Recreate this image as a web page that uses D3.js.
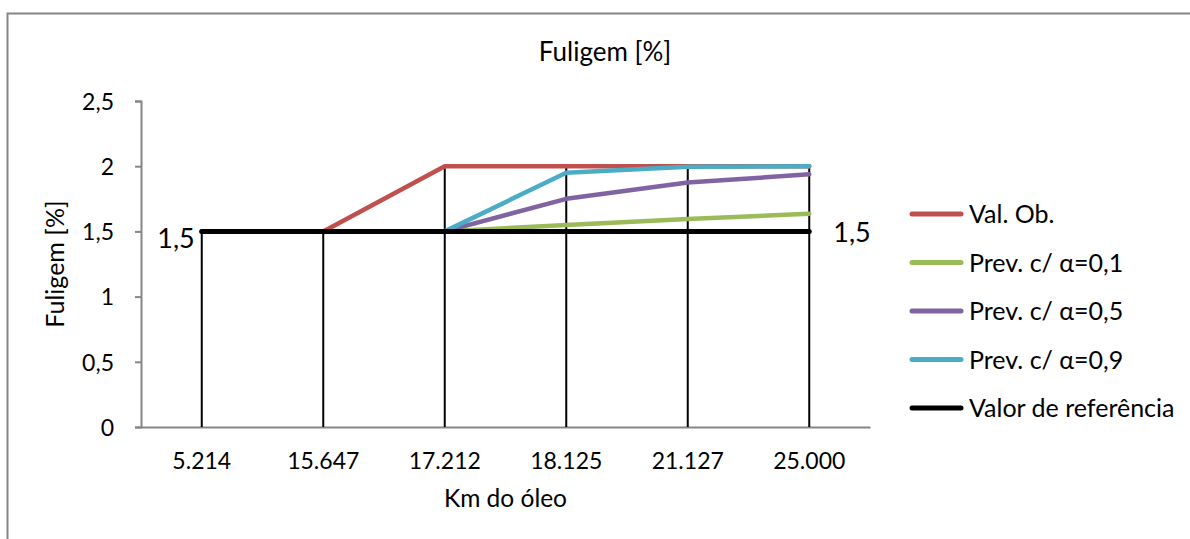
<!DOCTYPE html>
<html>
<head>
<meta charset="utf-8">
<script src="https://cdn.jsdelivr.net/npm/d3@7"></script>
<style>
  html, body { margin: 0; padding: 0; background: #fff; }
  svg { display: block; }
  text { font-family: Lato, "Open Sans", sans-serif; fill: #000; }
</style>
</head>
<body>
<svg id="chart" width="1190" height="539"></svg>
<script>
// Quilometragem do óleo (categorias do eixo X)
const categories = ["5.214", "15.647", "17.212", "18.125", "21.127", "25.000"];

// Fuligem [%] observada e previsões por suavização exponencial
const valObservado = [1.5, 1.5, 2, 2, 2, 2];
const prevAlfa01   = [1.5, 1.5, 1.5, 1.55, 1.595, 1.6355];
const prevAlfa05   = [1.5, 1.5, 1.5, 1.75, 1.875, 1.9375];
const prevAlfa09   = [1.5, 1.5, 1.5, 1.95, 1.995, 1.9995];
const valorReferencia = [1.5, 1.5, 1.5, 1.5, 1.5, 1.5];

const seriesNames = ["Val. Ob.", "Prev. c/ α=0,1", "Prev. c/ α=0,5", "Prev. c/ α=0,9", "Valor de referência"];
const yTicks = [0, 0.5, 1, 1.5, 2, 2.5];

const colors = ["#C0504D", "#9BBB59", "#8064A2", "#4BACC6", "#000000"];
const widths = [4.5, 4.5, 4.5, 4.5, 5];

const series = [valObservado, prevAlfa01, prevAlfa05, prevAlfa09, valorReferencia]
  .map((vals, i) => ({ name: seriesNames[i], values: vals, color: colors[i], width: widths[i] }));

const svg = d3.select("#chart");
const fmt = v => String(v).replace(".", ",");

// Área do gráfico com borda cinza
svg.append("rect")
  .attr("x", 7.5).attr("y", 13.5)
  .attr("width", 1200).attr("height", 600)
  .attr("fill", "#fff")
  .attr("stroke", "#868686").attr("stroke-width", 2);

const plot = { left: 141, right: 870, top: 101, bottom: 427 };

const x = d3.scaleBand().domain(categories).range([plot.left, plot.right]).padding(0);
const y = d3.scaleLinear().domain([0, 2.5]).range([plot.bottom, plot.top]);
const cx = c => x(c) + x.bandwidth() / 2;

// Eixo Y
const yAxis = svg.append("g")
  .attr("transform", `translate(${plot.left},0)`)
  .call(d3.axisLeft(y).tickValues(yTicks).tickFormat(fmt).tickSize(6).tickPadding(21));
yAxis.select(".domain").attr("stroke", "#868686").attr("stroke-width", 2);
yAxis.selectAll(".tick line").attr("stroke", "#868686").attr("stroke-width", 2);
yAxis.selectAll(".tick text")
  .attr("font-size", 23).attr("font-family", "Lato").attr("dy", "0.36em").attr("fill", "#000");

// Eixo X
const xAxis = svg.append("g")
  .attr("transform", `translate(0,${plot.bottom})`)
  .call(d3.axisBottom(x).tickSize(0).tickPadding(0));
xAxis.select(".domain").attr("stroke", "#868686").attr("stroke-width", 2);
xAxis.selectAll(".tick text")
  .attr("font-size", 23).attr("font-family", "Lato").attr("y", 42).attr("dy", 0).attr("fill", "#000");

// Linhas de projeção até o eixo
const maxPerCat = categories.map((c, i) => d3.max(series, s => s.values[i]));
svg.append("g").selectAll("line")
  .data(categories)
  .join("line")
  .attr("x1", d => cx(d)).attr("x2", d => cx(d))
  .attr("y1", (d, i) => y(maxPerCat[i]))
  .attr("y2", y(0))
  .attr("stroke", "#000").attr("stroke-width", 2);

// Séries
const line = d3.line()
  .x((d, i) => cx(categories[i]))
  .y(d => y(d));

svg.append("g").selectAll("path")
  .data(series)
  .join("path")
  .attr("d", s => line(s.values))
  .attr("fill", "none")
  .attr("stroke", s => s.color)
  .attr("stroke-width", s => s.width)
  .attr("stroke-linecap", "round")
  .attr("stroke-linejoin", "round");

// Rótulos do valor de referência (primeiro e último ponto)
const nRef = valorReferencia.length;
svg.append("text")
  .attr("x", cx(categories[0]) - 7)
  .attr("y", y(valorReferencia[0]) + 17)
  .attr("text-anchor", "end")
  .attr("font-size", 27)
  .text(fmt(valorReferencia[0]));
svg.append("text")
  .attr("x", cx(categories[nRef - 1]) + 24)
  .attr("y", y(valorReferencia[nRef - 1]) + 11)
  .attr("text-anchor", "start")
  .attr("font-size", 27)
  .text(fmt(valorReferencia[nRef - 1]));

// Títulos
svg.append("text")
  .attr("x", 605).attr("y", 61)
  .attr("text-anchor", "middle")
  .attr("font-size", 26)
  .text("Fuligem [%]");

svg.append("text")
  .attr("transform", `translate(64,${(plot.top + plot.bottom) / 2}) rotate(-90)`)
  .attr("text-anchor", "middle")
  .attr("font-size", 25)
  .text("Fuligem [%]");

svg.append("text")
  .attr("x", (plot.left + plot.right) / 2).attr("y", 507)
  .attr("text-anchor", "middle")
  .attr("font-size", 24.5)
  .text("Km do óleo");

// Legenda
const legend = svg.append("g");
const legendY0 = 214, legendStep = 48.5;
const items = legend.selectAll("g")
  .data(series)
  .join("g")
  .attr("transform", (d, i) => `translate(0,${legendY0 + i * legendStep})`);
items.append("line")
  .attr("x1", 912).attr("x2", 961)
  .attr("stroke", d => d.color)
  .attr("stroke-width", 5)
  .attr("stroke-linecap", "round");
items.append("text")
  .attr("x", 969).attr("dy", "0.36em")
  .attr("font-size", 25)
  .text(d => d.name);
</script>
</body>
</html>
